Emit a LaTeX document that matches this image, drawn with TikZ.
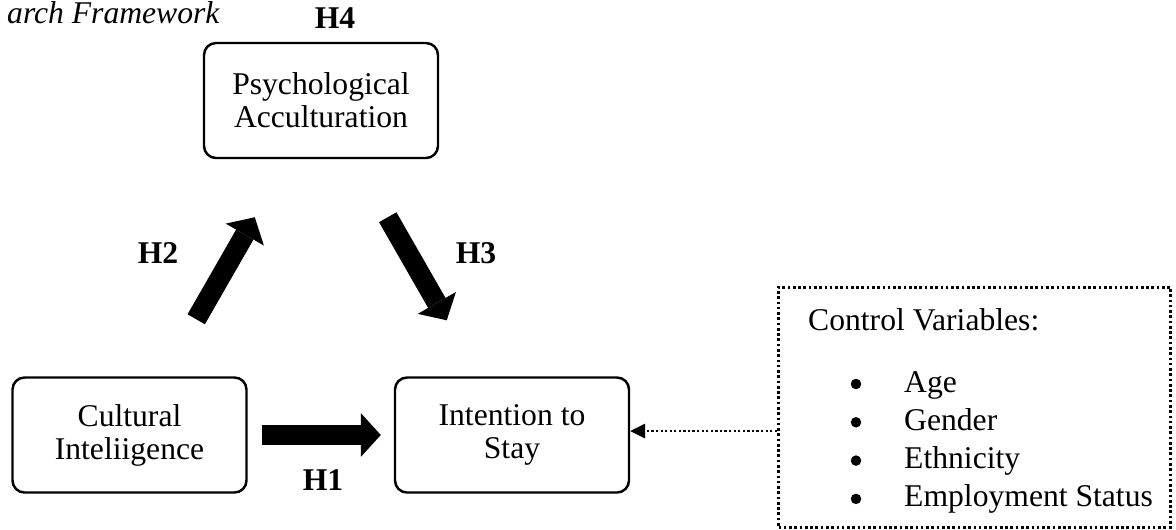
\documentclass[tikz,border=0pt]{standalone}
\usepackage{fontspec}
\setmainfont{Liberation Serif}
\usetikzlibrary{arrows.meta}

\begin{document}
\begin{tikzpicture}[font=\fontsize{18}{18.8}\selectfont,
                    bigarrow/.style={line width=0.4cm,
                      -{Triangle[length=0.4cm,width=0.88cm,line width=0pt]}},
                    dotarrow/.style={line width=1.3pt,dash pattern=on 1.3pt off 1.3pt,
                      -{Triangle[length=0.3cm,width=0.3cm,line width=0pt]}}]
  \tikzstyle{factor}=[draw=black,line width=1.4pt,rounded corners=0.24cm,
                      minimum width=4.68cm,minimum height=2.3cm,align=center,inner sep=0pt]
  \tikzstyle{hyp}=[font=\fontsize{18}{18.8}\selectfont\bfseries,anchor=base]
  \tikzstyle{dot}=[circle,fill=black,inner sep=0pt,minimum size=0.21cm]
  \useasboundingbox (0,0) rectangle (23.52,-10.58);

  \node[anchor=base west,font=\fontsize{18}{18.8}\selectfont\itshape] (title) at (0.02,-0.46) {arch Framework};

  \node[factor] (psych)  at (6.42,-2.01)  {Psychological\\Acculturation};
  \node[factor] (cult)   at (2.59,-8.70)  {Cultural\\Inteliigence};
  \node[factor] (intent) at (10.24,-8.70) {Intention to\\Stay};

  \node[draw,line width=1.7pt,dash pattern=on 1.5pt off 1.5pt,
        minimum width=7.84cm,minimum height=4.8cm] (ctrl) at (19.49,-8.14) {};
  \node[anchor=base west] (ctrltitle) at (16.04,-6.6) {Control Variables:};
  \foreach \nm/\txt [count=\i from 0] in {age/Age,gender/Gender,eth/Ethnicity,emp/Employment Status}
  {
    \node[dot] (bul\nm) at (17.12,-7.68-0.766*\i) {};
    \node[anchor=base west] (\nm) at (17.96,-7.84-0.766*\i) {\txt};
  }

  % hypotheses
  \node[hyp] (h4) at (6.7,-0.56)  {H4};
  \node[hyp] (h2) at (3.16,-5.26) {H2};
  \node[hyp] (h3) at (9.52,-5.26) {H3};
  \node[hyp] (h1) at (6.46,-9.8)  {H1};

  \draw[bigarrow,shorten <=0.28cm,shorten >=0.26cm] (cult.east) -- (intent.west);
  \draw[bigarrow] ([xshift=-1.03cm,yshift=1.14cm]cult.north east)
               -- ([xshift=1.04cm,yshift=-1.16cm]psych.south west);
  \draw[bigarrow] ([xshift=-1.03cm,yshift=-1.16cm]psych.south east)
               -- ([xshift=1.06cm,yshift=1.12cm]intent.north west);

  \path (intent.east) ++(0,0.08) coordinate (in);
  \draw[dotarrow] (ctrl.west |- in) -- (in);
\end{tikzpicture}
\end{document}
